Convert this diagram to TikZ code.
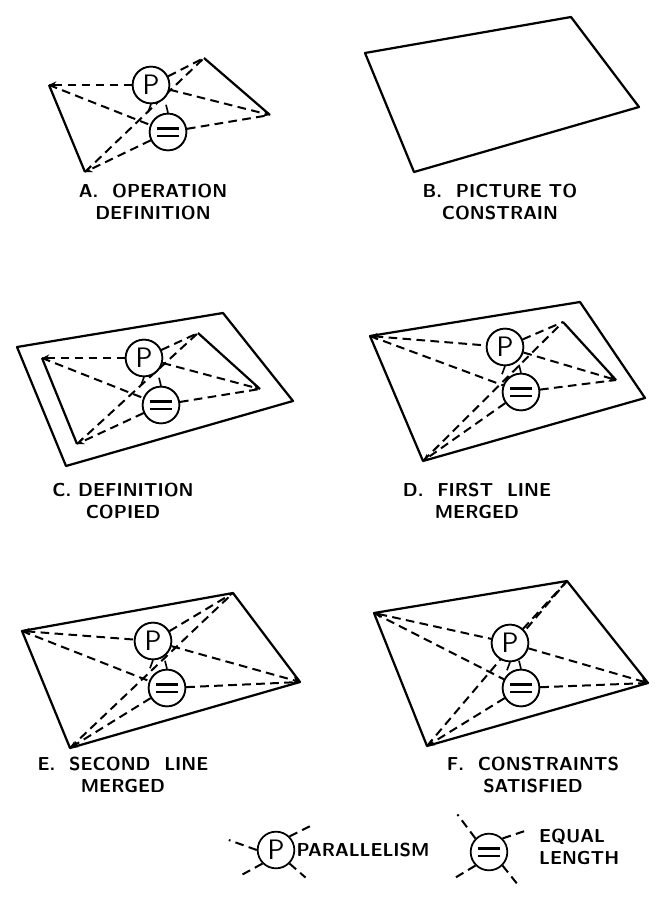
\documentclass[tikz,border=0pt]{standalone}
\usepackage{tikz}
\usetikzlibrary{calc}

% dashed constraint lines of one copy of the definition
\newcommand{\defnlines}[6]{%
	\draw [dline,<-] (#1) -- (#5);
	\draw [dline] (#5) -- (#2);
	\draw [dline,->] (#5) -- (#3);
	\draw [dline] (#1) -- (#6);
	\draw [dline] (#6) -- (#3);
	\draw [dline,->] (#6) -- (#4);
	\draw [dline] (#4) -- (#2);
	\draw [sline,line width=1.4pt] (#5.south) -- ++(-3,8);
	\draw [sline,line width=1.4pt] (#6.north) -- ++(-2,-8);
	\node [pcirc] at (#5) {P};
	\node [ecirc] at (#6) {};
	\draw [line width=2pt] ($(#6)+(-11,-3.5)$) -- ++(22,0) ($(#6)+(-11,4)$) -- ++(22,0);
}

\begin{document}
\begin{tikzpicture}[
		x=0.03cm,y=-0.03cm,
		>=stealth,
		sline/.style={line width=1.9pt,line join=round},
		dline/.style={line width=1.7pt,dash pattern=on 2.6mm off 1.6mm},
		pcirc/.style={draw,fill=white,line width=1.5pt,circle,minimum size=1.1cm,inner sep=0pt,font=\sffamily\fontsize{24}{24}\selectfont},
		ecirc/.style={draw,fill=white,line width=1.5pt,circle,minimum size=1.1cm,inner sep=0pt},
		caption/.style={font=\sffamily\bfseries\fontsize{16}{19}\selectfont,align=center}
	]
		\useasboundingbox (0,0) rectangle (663,902);

		% A. operation definition
		\coordinate (aL) at (49,85);
		\coordinate (aT) at (204,58);
		\coordinate (aR) at (270,115);
		\coordinate (aB) at (85,172);
		\draw [sline] (aL) -- (aB);
		\draw [sline] (aT) -- (aR);
		\node [pcirc] (pA) at (151,85) {P};
		\node [ecirc] (eA) at (168,132) {};
		\defnlines{aL}{aT}{aR}{aB}{pA}{eA}
		\node [caption] (capA) at (153,202) {A.\ \ OPERATION\\DEFINITION};

		% B. picture to constrain
		\draw [sline] (365,53) -- (571,17) -- (639,107) -- (414,172) -- cycle;
		\node [caption] (capB) at (500,202) {B.\ \ PICTURE TO\\CONSTRAIN};

		% C. definition copied
		\draw [sline] (17,347) -- (223,313) -- (293,401) -- (66,466) -- cycle;
		\coordinate (cL) at (42,358);
		\coordinate (cT) at (198,333);
		\coordinate (cR) at (260,389);
		\coordinate (cB) at (77,444);
		\draw [sline] (cL) -- (cB);
		\draw [sline] (cT) -- (cR);
		\node [pcirc] (pC) at (144,358) {P};
		\node [ecirc] (eC) at (161,405) {};
		\defnlines{cL}{cT}{cR}{cB}{pC}{eC}
		\node [caption] (capC) at (123,501) {C.\ DEFINITION\\COPIED};

		% D. first line merged
		\coordinate (dL) at (370,336);
		\coordinate (dB) at (423,461);
		\coordinate (dT) at (563,322);
		\coordinate (dR) at (616,380);
		\draw [sline] (dL) -- (580,302) -- (645,398) -- (dB) -- cycle;
		\draw [sline] (dT) -- (dR);
		\node [pcirc] (pD) at (505,347) {P};
		\node [ecirc] (eD) at (521,392) {};
		\defnlines{dL}{dT}{dR}{dB}{pD}{eD}
		\node [caption] (capD) at (477,501) {D.\ \ FIRST\ \ LINE\\MERGED};

		% E. second line merged
		\coordinate (eL) at (22,631);
		\coordinate (eT) at (233,593);
		\coordinate (eR) at (300,682);
		\coordinate (eB) at (70,748);
		\draw [sline] (eL) -- (eT) -- (eR) -- (eB) -- cycle;
		\node [pcirc] (pE) at (153,641) {P};
		\node [ecirc] (eE) at (167,688) {};
		\defnlines{eL}{eT}{eR}{eB}{pE}{eE}
		\node [caption] (capE) at (123,775) {E.\ \ SECOND\ \ LINE\\MERGED};

		% F. constraints satisfied
		\coordinate (fL) at (374,613);
		\coordinate (fT) at (567,581);
		\coordinate (fR) at (648,683);
		\coordinate (fB) at (427,746);
		\draw [sline] (fL) -- (fT) -- (fR) -- (fB) -- cycle;
		\node [pcirc] (pF) at (510,643) {P};
		\node [ecirc] (eF) at (521,688) {};
		\defnlines{fL}{fT}{fR}{fB}{pF}{eF}
		\node [caption] (capF) at (533,775) {F.\ \ CONSTRAINTS\\SATISFIED};

		% legend
		\node [pcirc] (pLeg) at (276,850) {P};
		\draw [dline] (pLeg.north east) -- ++(22,-11);
		\draw [dline] (pLeg.west) -- ++(-28,-10);
		\draw [dline] (pLeg.south west) -- ++(-22,12);
		\draw [dline] (pLeg.south east) -- ++(16,14);
		\node [caption,anchor=west,inner sep=1pt] (parLeg) at (pLeg.east) {PARALLELISM};
		\node [ecirc] (eLeg) at (489,852) {};
		\draw [line width=2pt] ($(eLeg)+(-11,-3.5)$) -- ++(22,0) ($(eLeg)+(-11,4)$) -- ++(22,0);
		\draw [dline] (eLeg.north west) -- ++(-18,-24);
		\draw [dline] (eLeg.north east) -- ++(24,-8);
		\draw [dline] (eLeg.south west) -- ++(-20,12);
		\draw [dline] (eLeg.south east) -- ++(16,20);
		\node [caption,anchor=west,align=left] (eqLeg) at (535,847) {EQUAL\\LENGTH};
	\end{tikzpicture}
\end{document}
